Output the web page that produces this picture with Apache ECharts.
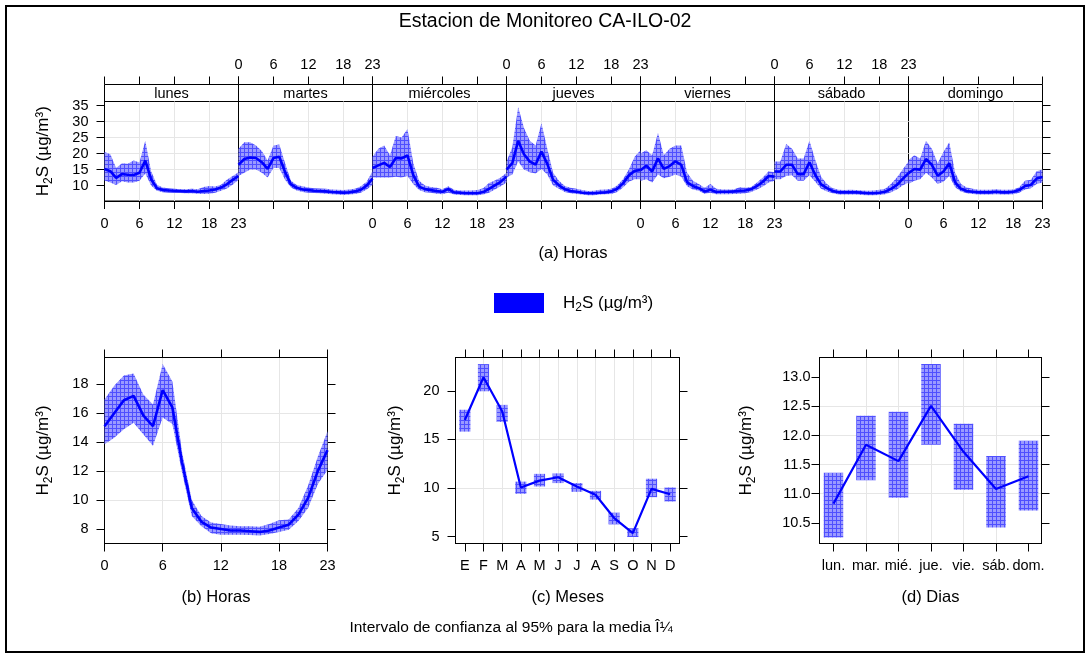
<!DOCTYPE html>
<html><head><meta charset="utf-8">
<script src="https://cdn.jsdelivr.net/npm/echarts@6/dist/echarts.min.js"></script>
<style>html,body{margin:0;padding:0;background:#fff}#c{width:1090px;height:658px}</style>
</head><body><div id="c"></div>
<script>
// ---------------- DATA ----------------
const hours = [0,1,2,3,4,5,6,7,8,9,10,11,12,13,14,15,16,17,18,19,20,21,22,23];
const hourTicks = [0,6,12,18,23];
const dayNames = ['lunes','martes','miércoles','jueves','viernes','sábado','domingo'];

const lunesMean  = [15.2,14.5,12.4,13.6,13.4,13.3,14.0,17.8,12.0,9.2,8.6,8.5,8.4,8.3,8.2,8.3,8.1,8.3,8.5,8.8,9.4,10.4,11.8,13.0];
const lunesUpper = [20.5,19.8,15.5,17.0,16.8,17.8,17.2,24.0,14.5,10.3,9.4,9.2,9.0,8.9,8.9,9.0,8.9,9.6,9.9,9.7,10.3,11.8,13.0,14.2];
const lunesLower = [11.6,11.0,10.2,11.4,11.0,11.0,11.5,13.8,10.0,8.4,7.9,7.8,7.7,7.7,7.6,7.6,7.5,7.4,7.5,7.8,8.4,9.1,10.3,11.8];

const martesMean  = [16.5,18.3,18.8,18.6,17.3,15.2,18.6,19.0,14.2,10.4,9.3,8.8,8.6,8.4,8.3,8.2,8.0,7.9,7.8,7.9,8.2,8.7,10.0,12.2];
const martesUpper = [21.5,23.5,23.5,22.5,20.8,17.8,22.5,22.8,17.0,11.5,10.2,9.8,9.4,9.2,9.1,9.0,8.8,8.7,8.6,8.8,9.0,9.8,11.2,14.5];
const martesLower = [13.0,14.0,15.0,15.0,14.0,12.5,15.5,15.5,11.8,9.4,8.5,8.0,7.8,7.7,7.6,7.5,7.3,7.2,7.1,7.2,7.4,7.8,8.8,10.2];

const miercolesMean  = [15.5,16.3,17.1,15.8,18.6,18.5,19.4,13.3,9.7,8.9,8.6,8.3,8.1,8.9,7.9,7.8,7.6,7.6,7.6,8.0,9.0,10.1,11.2,12.8];
const miercolesUpper = [19.0,21.5,22.5,19.5,25.5,25.0,27.7,17.0,11.5,10.0,9.6,9.3,8.9,9.8,8.7,8.5,8.5,8.5,8.6,9.2,10.8,11.6,12.5,14.0];
const miercolesLower = [12.5,12.5,12.5,12.5,12.8,12.5,13.0,10.5,8.6,7.9,7.8,7.5,7.3,7.8,7.2,7.1,7.0,7.0,7.0,7.2,7.8,8.8,9.8,11.0];

const juevesMean  = [15.0,17.0,24.0,19.8,17.5,16.6,20.6,16.8,11.8,10.1,8.9,8.3,8.1,7.8,7.6,7.6,7.8,7.9,8.2,9.0,10.7,13.2,14.6,14.9];
const juevesUpper = [17.5,22.0,34.5,28.0,24.0,22.5,29.5,21.5,14.0,11.5,9.9,9.3,9.0,8.6,8.3,8.4,8.7,8.8,9.0,10.0,12.0,15.0,19.0,21.0];
const juevesLower = [12.5,13.5,17.5,15.0,14.2,13.8,15.2,13.5,10.0,9.0,8.0,7.6,7.4,7.2,7.0,7.0,7.2,7.3,7.4,8.0,9.4,11.2,12.0,12.0];

const viernesMean  = [14.8,16.2,14.4,18.5,15.2,16.1,17.6,16.5,11.0,9.9,9.2,8.2,8.7,8.0,8.1,8.1,8.2,8.4,8.5,8.9,9.9,11.2,13.0,12.8];
const viernesUpper = [20.0,21.0,19.5,26.5,19.5,21.5,22.5,22.5,14.0,11.5,10.5,9.3,10.5,9.0,8.8,8.8,8.8,9.5,9.3,9.6,11.0,12.5,14.5,14.2];
const viernesLower = [11.5,12.0,11.0,13.5,12.3,12.8,13.5,12.8,9.8,8.8,8.4,7.5,7.8,7.3,7.3,7.3,7.4,7.5,7.6,8.0,8.8,9.7,11.0,11.5];

const sabadoMean  = [14.4,14.4,16.5,16.5,13.6,13.6,17.3,13.3,10.4,9.2,8.3,7.9,7.9,7.9,7.9,7.8,7.6,7.6,7.8,8.1,9.0,10.2,12.1,13.9];
const sabadoUpper = [17.5,17.5,23.0,21.5,18.5,18.5,24.0,18.0,12.8,10.5,9.2,8.7,8.6,8.7,8.6,8.5,8.4,8.5,8.7,9.0,10.5,12.5,15.0,17.5];
const sabadoLower = [12.0,12.0,13.0,13.2,11.5,11.5,13.2,11.2,9.0,8.2,7.6,7.2,7.2,7.2,7.2,7.1,7.0,7.0,7.1,7.3,7.9,8.8,10.0,11.0];

const domingoMean  = [13.9,15.2,15.0,18.3,16.5,13.1,14.4,17.0,11.0,9.0,8.3,8.1,7.9,7.9,7.9,8.1,7.9,7.9,8.1,8.6,9.9,10.2,12.2,12.7];
const domingoUpper = [18.0,19.5,18.5,24.0,21.5,17.0,20.5,23.5,14.0,10.5,9.4,9.0,8.7,8.7,8.7,8.9,8.7,8.7,8.8,9.5,11.5,11.8,14.5,15.0];
const domingoLower = [10.5,11.5,12.0,14.0,12.5,10.5,11.2,13.0,9.5,8.2,7.6,7.4,7.2,7.2,7.2,7.3,7.2,7.2,7.3,7.8,8.8,9.2,10.5,11.0];

const hourMean  = [15.1,16.0,16.9,17.2,15.85,15.1,17.6,16.4,12.6,9.45,8.5,8.1,8.0,7.9,7.9,7.85,7.8,7.9,8.1,8.3,9.0,10.15,12.0,13.45];
const hourUpper = [16.95,17.9,18.6,18.75,17.3,16.6,19.4,18.2,13.3,10.0,8.9,8.45,8.35,8.25,8.2,8.2,8.15,8.35,8.6,8.65,9.45,11.0,13.0,14.75];
const hourLower = [13.85,14.3,14.9,15.35,14.55,13.75,15.7,15.25,11.9,8.9,8.2,7.7,7.6,7.6,7.6,7.58,7.55,7.65,7.8,7.95,8.55,9.45,11.1,12.1];

const monthLabels = ['E','F','M','A','M','J','J','A','S','O','N','D'];
const monthMean  = [17.0,21.4,17.9,10.05,10.75,11.1,10.15,9.3,6.9,5.35,9.9,9.35];
const monthUpper = [18.05,22.75,18.55,10.65,11.45,11.5,10.5,9.7,7.45,5.85,10.95,10.05];
const monthLower = [15.8,19.95,16.8,9.4,10.15,10.5,9.6,8.8,6.25,4.95,9.05,8.6];

const weekdayLabels = ['lun.','mar.','mié.','jue.','vie.','sáb.','dom.'];
const weekdayMean  = [10.83,11.84,11.56,12.51,11.72,11.08,11.3];
const weekdayUpper = [11.36,12.34,12.41,13.23,12.2,11.65,11.91];
const weekdayLower = [10.25,11.23,10.93,11.84,11.07,10.42,10.71];

const topYTicks = [10,15,20,25,30,35];
const hourYTicks = [8,10,12,14,16,18];
const monthYTicks = [5,10,15,20];
const weekdayYTicks = [10.5,11,11.5,12,12.5,13];

const dayMeans  = [lunesMean, martesMean, miercolesMean, juevesMean, viernesMean, sabadoMean, domingoMean];
const dayUppers = [lunesUpper, martesUpper, miercolesUpper, juevesUpper, viernesUpper, sabadoUpper, domingoUpper];
const dayLowers = [lunesLower, martesLower, miercolesLower, juevesLower, viernesLower, sabadoLower, domingoLower];

// ---------------- STYLE ----------------
const FONT = '"Liberation Sans", Arial, Helvetica, sans-serif';
const GRIDC = '#e6e6e6';
const BLUE = '#0000ff';
const TICK = 14.5;

function makePattern() {
  const c = document.createElement('canvas');
  c.width = 4; c.height = 4;
  const g = c.getContext('2d');
  g.fillStyle = '#9a9aff'; g.fillRect(0,0,4,4);
  g.fillStyle = '#4f4fff'; g.fillRect(0,0,4,1); g.fillRect(0,0,1,4);
  return { image: c, repeat: 'repeat' };
}
const pattern = makePattern();

const yName = 'H{s|2}S (µg/m³)';
const nameStyle = { fontSize: 17, lineHeight: 22, color: '#000', fontFamily: FONT,
  rich: { s: { fontSize: 12, lineHeight: 12, verticalAlign: 'bottom', color: '#000', fontFamily: FONT } } };

const grids = [], xAxes = [], yAxes = [], series = [], graphics = [];
const lineOn = { show: true, onZero: false, lineStyle: { color: '#000', width: 1 } };

function tickOpt(show, values) {
  return { show: show, inside: false, length: 8, lineStyle: { color: '#000', width: 1 }, customValues: values };
}
function labelOpt(show, values, margin, fmt) {
  const o = { show: show, customValues: values, margin: margin, fontSize: TICK, color: '#000', fontFamily: FONT,
    showMinLabel: true, showMaxLabel: true, hideOverlap: false };
  if (fmt) o.formatter = fmt;
  return o;
}
const splitOpt = { show: true, showMinLine: false, showMaxLine: false, lineStyle: { color: GRIDC } };

// band polygon drawn through the axis scales
function bandSeries(xIdx, yIdx, xs, lo, up) {
  return { type: 'custom', xAxisIndex: xIdx, yAxisIndex: yIdx, silent: true, z: 2,
    data: xs.map((x, i) => [x, lo[i], up[i]]),
    renderItem: function (params, api) {
      if (params.dataIndex !== 0) return null;
      const pts = [];
      for (let i = 0; i < xs.length; i++) pts.push(api.coord([xs[i], up[i]]));
      for (let i = xs.length - 1; i >= 0; i--) pts.push(api.coord([xs[i], lo[i]]));
      return { type: 'polygon', shape: { points: pts }, style: { fill: pattern, stroke: null } };
    } };
}

// ---------------- TOP ROW ----------------
const TL = 104.5, PW = 134, TT = 101.5, TH = 99.5, SH = 17;
for (let k = 0; k < 7; k++) {
  grids.push({ left: TL + k * PW, top: TT, width: PW, height: TH, show: true, borderColor: '#000', borderWidth: 1 });
  const xb = xAxes.length;
  xAxes.push({ gridIndex: k, type: 'value', min: 0, max: 23, position: 'bottom',
    axisLine: lineOn, axisTick: tickOpt(true, hourTicks),
    axisLabel: labelOpt(k % 2 === 0, hourTicks, 15), splitLine: splitOpt });
  xAxes.push({ gridIndex: k, type: 'value', min: 0, max: 23, position: 'top', offset: SH,
    axisLine: { show: false }, axisTick: tickOpt(true, hourTicks),
    axisLabel: labelOpt(k % 2 === 1, hourTicks, 12), splitLine: { show: false } });
  const yi = yAxes.length;
  const ya = { gridIndex: k, type: 'value', min: 5.2, max: 36.25, position: k === 6 ? 'right' : 'left',
    axisLine: lineOn, axisTick: tickOpt(k === 0 || k === 6, topYTicks),
    axisLabel: labelOpt(k === 0, topYTicks, 16), splitLine: splitOpt };
  if (k === 0) Object.assign(ya, { name: yName, nameLocation: 'middle', nameGap: 50, nameRotate: 90, nameTextStyle: nameStyle });
  yAxes.push(ya);
  series.push(bandSeries(xb, yi, hours, dayLowers[k], dayUppers[k]));
  const mn = dayMeans[k];
  series.push({ type: 'line', xAxisIndex: xb, yAxisIndex: yi, symbol: 'none', silent: true, z: 3,
    lineStyle: { color: BLUE, width: 2.6 }, data: hours.map((h, i) => [h, mn[i]]) });
  // strip
  graphics.push({ type: 'rect', shape: { x: TL + k * PW, y: TT - SH, width: PW, height: SH },
    style: { fill: '#fff', stroke: '#000', lineWidth: 1 } });
  graphics.push({ type: 'text', x: TL + k * PW + PW / 2, y: TT - SH / 2 + 0.5,
    style: { text: dayNames[k], fontSize: TICK, fontFamily: FONT, fill: '#000', align: 'center', verticalAlign: 'middle' } });
}

// ---------------- BOTTOM ROW ----------------
function bottomPanel(box, xmin, xmax, xTicks, xFmt, ymin, ymax, yTicks, yFmt, nameGap, yLabMargin) {
  const gi = grids.length;
  grids.push({ left: box[0], top: box[1], width: box[2], height: box[3], show: true, borderColor: '#000', borderWidth: 1 });
  const xb = xAxes.length;
  xAxes.push({ gridIndex: gi, type: 'value', min: xmin, max: xmax, position: 'bottom',
    axisLine: lineOn, axisTick: tickOpt(true, xTicks), axisLabel: labelOpt(true, xTicks, 15, xFmt),
    splitLine: splitOpt });
  xAxes.push({ gridIndex: gi, type: 'value', min: xmin, max: xmax, position: 'top',
    axisLine: lineOn, axisTick: tickOpt(true, xTicks), axisLabel: { show: false }, splitLine: { show: false } });
  const yi = yAxes.length;
  yAxes.push({ gridIndex: gi, type: 'value', min: ymin, max: ymax, position: 'left',
    axisLine: lineOn, axisTick: tickOpt(true, yTicks), axisLabel: labelOpt(true, yTicks, yLabMargin, yFmt),
    splitLine: splitOpt,
    name: yName, nameLocation: 'middle', nameGap: nameGap, nameRotate: 90, nameTextStyle: nameStyle });
  yAxes.push({ gridIndex: gi, type: 'value', min: ymin, max: ymax, position: 'right',
    axisLine: lineOn, axisTick: tickOpt(true, yTicks), axisLabel: { show: false }, splitLine: { show: false } });
  return { xb: xb, yi: yi };
}

// (b) hours
const pb = bottomPanel([104.5, 357.5, 223, 186], 0, 23, hourTicks, null, 7.0, 19.85, hourYTicks, null, 50, 16);
series.push(bandSeries(pb.xb, pb.yi, hours, hourLower, hourUpper));
series.push({ type: 'line', xAxisIndex: pb.xb, yAxisIndex: pb.yi, symbol: 'none', silent: true, z: 3,
  lineStyle: { color: BLUE, width: 2.6 }, data: hours.map((h, i) => [h, hourMean[i]]) });

function boxRender(params, api) {
  const x = api.value(0), lo = api.value(1), hi = api.value(2);
  const p1 = api.coord([x, hi]), p2 = api.coord([x, lo]);
  const w = api.size([0.6, 0])[0];
  return { type: 'rect', shape: { x: p1[0] - w / 2, y: p1[1], width: w, height: p2[1] - p1[1] }, style: { fill: pattern } };
}

// (c) months
const monthIdx = monthLabels.map((_, i) => i + 1);
const pc = bottomPanel([455.5, 357.5, 224, 186], 0.5, 12.5, monthIdx, v => monthLabels[Math.round(v) - 1],
  4.28, 23.43, monthYTicks, null, 49, 16);
series.push({ type: 'custom', xAxisIndex: pc.xb, yAxisIndex: pc.yi, silent: true, renderItem: boxRender, z: 2,
  data: monthIdx.map((m, i) => [m, monthLower[i], monthUpper[i]]) });
series.push({ type: 'line', xAxisIndex: pc.xb, yAxisIndex: pc.yi, symbol: 'none', silent: true, z: 3,
  lineStyle: { color: BLUE, width: 2.2 }, data: monthIdx.map((m, i) => [m, monthMean[i]]) });

// (d) weekdays
const wdIdx = weekdayLabels.map((_, i) => i + 1);
const pd = bottomPanel([819.5, 357.5, 222, 186], 0.57, 7.4, wdIdx, v => weekdayLabels[Math.round(v) - 1],
  10.145, 13.34, weekdayYTicks, v => v.toFixed(1), 62, 9);
series.push({ type: 'custom', xAxisIndex: pd.xb, yAxisIndex: pd.yi, silent: true, renderItem: boxRender, z: 2,
  data: wdIdx.map((d, i) => [d, weekdayLower[i], weekdayUpper[i]]) });
series.push({ type: 'line', xAxisIndex: pd.xb, yAxisIndex: pd.yi, symbol: 'none', silent: true, z: 3,
  lineStyle: { color: BLUE, width: 2.2 }, data: wdIdx.map((d, i) => [d, weekdayMean[i]]) });

// legend carrier
series.push({ type: 'custom', name: 'H2S', xAxisIndex: 0, yAxisIndex: 0, data: [], renderItem: () => null,
  itemStyle: { color: BLUE } });

// ---------------- TEXT / FRAME ----------------
function txt(t, x, y, size) {
  return { type: 'text', x: x, y: y, silent: true,
    style: { text: t, fontSize: size, fontFamily: FONT, fill: '#000', align: 'center', verticalAlign: 'middle' } };
}
graphics.push({ type: 'rect', shape: { x: 6, y: 6, width: 1078, height: 646 }, style: { fill: 'none', stroke: '#000', lineWidth: 2 } });
graphics.push(txt('Estacion de Monitoreo CA-ILO-02', 545, 22, 19.5));
graphics.push(txt('(a) Horas', 573, 253, 16.5));
graphics.push(txt('(b) Horas', 216, 597, 16.5));
graphics.push(txt('(c) Meses', 567.7, 597, 16.5));
graphics.push(txt('(d) Dias', 930.5, 597, 16.5));
graphics.push(txt('Intervalo de confianza al 95% para la media Î¼', 511, 628, 15.5));

const chart = echarts.init(document.getElementById('c'), null, { renderer: 'canvas' });
chart.setOption({
  animation: false,
  backgroundColor: '#fff',
  textStyle: { fontFamily: FONT },
  grid: grids, xAxis: xAxes, yAxis: yAxes, series: series,
  legend: { left: 489, top: 287, itemWidth: 50, itemHeight: 20, selectedMode: false,
    data: [{ name: 'H2S', icon: 'rect', itemStyle: { color: BLUE } }],
    formatter: () => 'H{s|2}S (µg/m³)',
    textStyle: { fontSize: 17, lineHeight: 22, color: '#000', fontFamily: FONT, padding: [0, 0, 0, 14],
      rich: { s: { fontSize: 12, lineHeight: 12, verticalAlign: 'bottom', color: '#000', fontFamily: FONT } } } },
  graphic: graphics
});
</script>
</body></html>
